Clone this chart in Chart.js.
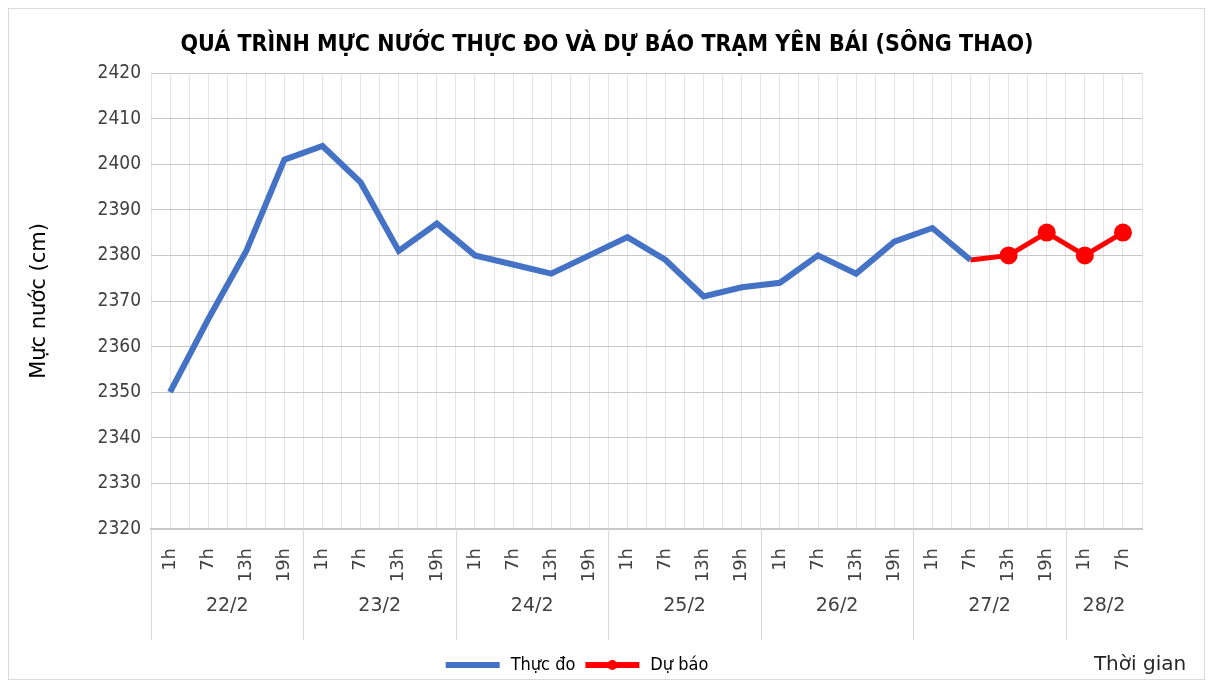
<!DOCTYPE html>
<html>
<head>
<meta charset="utf-8">
<script src="https://cdn.jsdelivr.net/npm/chart.js@4.4.1/dist/chart.umd.min.js"></script>
<style>
  html, body { margin: 0; padding: 0; background: #fff; }
  #wrap { width: 1212px; height: 686px; }
</style>
</head>
<body>
<div id="wrap"><canvas id="chart-yenbai"></canvas></div>
<script>
const hourLabels = ["1h", "7h", "13h", "19h", "1h", "7h", "13h", "19h", "1h", "7h", "13h", "19h", "1h", "7h", "13h", "19h", "1h", "7h", "13h", "19h", "1h", "7h", "13h", "19h", "1h", "7h"];
const dayLabels = ["22/2", "23/2", "24/2", "25/2", "26/2", "27/2", "28/2"];
const dayCounts = [4, 4, 4, 4, 4, 4, 2];
const thucDo = [2350, 2366, 2381, 2401, 2404, 2396, 2381, 2387, 2380, 2378, 2376, 2380, 2384, 2379, 2371, 2373, 2374, 2380, 2376, 2383, 2386, 2379, null, null, null, null];
const duBao = [null, null, null, null, null, null, null, null, null, null, null, null, null, null, null, null, null, null, null, null, null, 2379, 2380, 2385, 2380, 2385];
const yTicks = [2320, 2330, 2340, 2350, 2360, 2370, 2380, 2390, 2400, 2410, 2420];
const titleText = "QUÁ TRÌNH MỰC NƯỚC THỰC ĐO VÀ DỰ BÁO TRẠM YÊN BÁI (SÔNG THAO)";

const FONT = "'Liberation Sans Narrow', 'DejaVu Sans Condensed', 'Liberation Sans', sans-serif";
const WIDE = "'DejaVu Sans', sans-serif";
const BLUE = "#4472C4";
const RED = "#FF0000";

// legend samples
function legendSample(color, withDot) {
  const c = document.createElement("canvas");
  c.width = 58;
  c.height = 20;
  const g = c.getContext("2d");
  g.strokeStyle = color;
  g.lineWidth = 6;
  g.beginPath();
  g.moveTo(2, 10);
  g.lineTo(56, 10);
  g.stroke();
  if (withDot) {
    g.fillStyle = color;
    g.beginPath();
    g.arc(29, 10, 5, 0, Math.PI * 2);
    g.fill();
  }
  return c;
}
const sampleThucDo = legendSample(BLUE, false);
const sampleDuBao = legendSample(RED, true);

const extras = {
  id: "extras",
  beforeDraw(chart) {
    const ctx = chart.ctx;
    ctx.save();
    ctx.fillStyle = "#fff";
    ctx.fillRect(0, 0, chart.width, chart.height);
    ctx.strokeStyle = "#d9d9d9";
    ctx.lineWidth = 1;
    ctx.strokeRect(8.5, 8.5, 1196, 671);
    ctx.restore();
  },
  afterDraw(chart) {
    const ctx = chart.ctx;
    const x = chart.scales.x;
    const half = (x.getPixelForValue(1) - x.getPixelForValue(0)) / 2;
    const top = chart.chartArea.bottom;
    ctx.save();
    // title, centred on the page
    ctx.fillStyle = "#000";
    ctx.font = "bold 23px " + FONT;
    ctx.textAlign = "center";
    ctx.textBaseline = "middle";
    ctx.fillText(titleText, 607, 45);
    // day groups under the hour labels
    ctx.strokeStyle = "#d9d9d9";
    ctx.lineWidth = 1;
    ctx.fillStyle = "#404040";
    ctx.font = "19px " + WIDE;
    let start = 0;
    dayLabels.forEach((d, i) => {
      const left = x.getPixelForValue(start) - half;
      const right = x.getPixelForValue(start + dayCounts[i] - 1) + half;
      ctx.beginPath();
      ctx.moveTo(Math.round(left) + 0.5, top);
      ctx.lineTo(Math.round(left) + 0.5, 640);
      ctx.stroke();
      ctx.fillText(d, (left + right) / 2, 606);
      start += dayCounts[i];
    });
    ctx.fillStyle = "#262626";
    ctx.font = "20px " + WIDE;
    ctx.fillText("Thời gian", 1140, 665);
    ctx.restore();
  },
};

const chart = new Chart(document.getElementById("chart-yenbai"), {
  type: "line",
  data: {
    labels: hourLabels,
    datasets: [
      {
        label: "Thực đo",
        data: thucDo,
        borderColor: BLUE,
        backgroundColor: BLUE,
        borderWidth: 6,
        pointRadius: 0,
        pointHoverRadius: 0,
        tension: 0,
      },
      {
        label: "Dự báo",
        data: duBao,
        borderColor: RED,
        backgroundColor: RED,
        borderWidth: 5,
        pointRadius: duBao.map((v, i) => (i === 21 ? 0 : 9)),
        pointBorderWidth: 0,
        tension: 0,
      },
    ],
  },
  options: {
    responsive: true,
    maintainAspectRatio: false,
    animation: false,
    layout: {
      padding: { left: 10, right: 70, top: 73, bottom: 2 },
    },
    scales: {
      x: {
        type: "category",
        offset: true,
        grid: { offset: true, color: "#e3e3e3", drawTicks: false },
        border: { color: "#c8c8c8", width: 2 },
        ticks: {
          minRotation: 90,
          maxRotation: 90,
          autoSkip: false,
          color: "#404040",
          padding: 19,
          font: { family: WIDE, size: 18 },
        },
        afterFit: (s) => {
          s.height = 119;
        },
      },
      x2: {
        type: "category",
        position: "bottom",
        offset: true,
        grid: { offset: false, color: "#e3e3e3", drawTicks: false },
        border: { display: false },
        ticks: { display: false },
        afterFit: (s) => {
          s.height = 0;
        },
      },
      y: {
        min: 2320,
        max: 2420,
        afterBuildTicks: (s) => {
          s.ticks = yTicks.map((v) => ({ value: v }));
        },
        grid: { color: "#c8c8c8", drawTicks: false },
        border: { display: false },
        ticks: {
          color: "#404040",
          padding: 10,
          font: { family: FONT, size: 19 },
          callback: (v) => String(v),
        },
        title: {
          display: true,
          text: "Mực nước (cm)",
          color: "#000",
          padding: { top: 17, bottom: 0 },
          font: { family: WIDE, size: 21 },
        },
        afterFit: (s) => {
          s.width = 141;
        },
      },
    },
    plugins: {
      title: { display: false },
      legend: {
        position: "bottom",
        labels: {
          usePointStyle: true,
          pointStyleWidth: 58,
          boxHeight: 14,
          color: "#262626",
          font: { family: FONT, size: 18 },
          padding: 8,
          generateLabels: () => [
            { text: "Thực đo", pointStyle: sampleThucDo, fillStyle: BLUE, strokeStyle: BLUE, lineWidth: 0, datasetIndex: 0 },
            { text: "Dự báo", pointStyle: sampleDuBao, fillStyle: RED, strokeStyle: RED, lineWidth: 0, datasetIndex: 1 },
          ],
        },
      },
      tooltip: { enabled: false },
    },
  },
  plugins: [extras],
});
</script>
</body>
</html>
